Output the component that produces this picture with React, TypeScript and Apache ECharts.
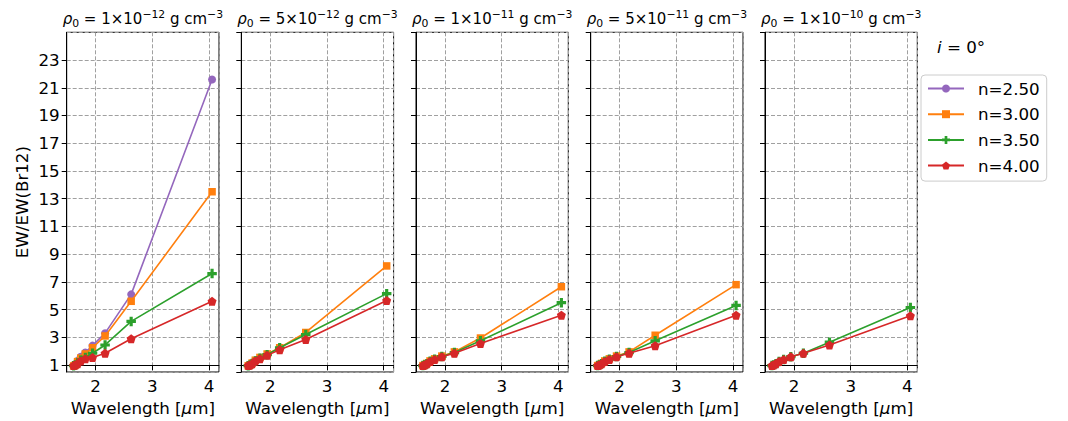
import React, { useEffect, useRef } from 'react';
import * as echarts from 'echarts';

// Brackett line wavelengths (µm): Br13 ... Brα
const wavelengths = [1.6114, 1.6412, 1.6811, 1.7367, 1.8179, 1.9446, 2.1661, 2.6259, 4.0523];

const seriesNames = ['n=2.50', 'n=3.00', 'n=3.50', 'n=4.00'];
const seriesColors = ['#9467bd', '#ff7f0e', '#2ca02c', '#d62728'];

const densityExponents = ['1', '5', '1', '5', '1'];
const densityPowers = ['−12', '−12', '−11', '−11', '−10'];

// rho0 = 1e-12
const ew_1e12_n250 = [0.93, 1, 1.3, 1.6, 1.9, 2.4, 3.3, 6.1, 21.6];
const ew_1e12_n300 = [0.94, 1, 1.25, 1.5, 1.8, 2.25, 3.1, 5.6, 13.5];
const ew_1e12_n350 = [0.95, 1, 1.15, 1.35, 1.55, 1.85, 2.45, 4.15, 7.6];
const ew_1e12_n400 = [0.96, 1, 1.1, 1.3, 1.45, 1.55, 1.85, 2.9, 5.6];
// rho0 = 5e-12
const ew_5e12_n300 = [0.95, 1, 1.15, 1.35, 1.55, 1.8, 2.25, 3.35, 8.15];
const ew_5e12_n350 = [0.95, 1, 1.12, 1.3, 1.5, 1.75, 2.25, 3.2, 6.15];
const ew_5e12_n400 = [0.96, 1, 1.1, 1.3, 1.45, 1.7, 2.1, 2.85, 5.65];
// rho0 = 1e-11
const ew_1e11_n300 = [0.96, 1, 1.12, 1.3, 1.45, 1.65, 1.95, 2.95, 6.65];
const ew_1e11_n350 = [0.96, 1, 1.1, 1.28, 1.42, 1.62, 1.9, 2.75, 5.5];
const ew_1e11_n400 = [0.96, 1, 1.1, 1.25, 1.4, 1.6, 1.85, 2.55, 4.6];
// rho0 = 5e-11
const ew_5e11_n300 = [0.96, 1, 1.12, 1.3, 1.45, 1.65, 1.95, 3.15, 6.8];
const ew_5e11_n350 = [0.96, 1, 1.1, 1.28, 1.42, 1.62, 1.9, 2.75, 5.3];
const ew_5e11_n400 = [0.96, 1, 1.1, 1.25, 1.4, 1.6, 1.85, 2.4, 4.6];
// rho0 = 1e-10
const ew_1e10_n350 = [0.96, 1, 1.1, 1.25, 1.4, 1.6, 1.85, 2.65, 5.15];
const ew_1e10_n400 = [0.96, 1, 1.1, 1.25, 1.4, 1.6, 1.85, 2.45, 4.55];

const panelSeries: (number[] | null)[][] = [
  [ew_1e12_n250, ew_1e12_n300, ew_1e12_n350, ew_1e12_n400],
  [null, ew_5e12_n300, ew_5e12_n350, ew_5e12_n400],
  [null, ew_1e11_n300, ew_1e11_n350, ew_1e11_n400],
  [null, ew_5e11_n300, ew_5e11_n350, ew_5e11_n400],
  [null, null, ew_1e10_n350, ew_1e10_n400],
];

const yTickLabels = [1, 3, 5, 7, 9, 11, 13, 15, 17, 19, 21, 23];
const xTickLabels = [2, 3, 4];
const Y_MIN = 0.5;
const Y_MAX = 25;
const Y_SHIFT = 1; // axis counts ticks from a multiple of 2, so values are offset by 1

const FONT = 'DejaVu Sans';
const FS = 16.7;

const PANEL_LEFTS = [66.7, 241.3, 416, 590.7, 765];
const PANEL_W = 152.3;
const PANEL_TOP = 32.3;
const PANEL_H = 340;

const PLUS = 'path://M1,0H2V1H3V2H2V3H1V2H0V1H1Z';
const PENTA = 'path://M0.5,0L1,0.363L0.809,0.951L0.191,0.951L0,0.363Z';
const symbols = ['circle', 'rect', PLUS, PENTA];
const symbolSizes = [8, 7.5, 9.5, 9];

export default function App() {
  const ref = useRef<HTMLDivElement>(null);
  useEffect(() => {
    if (!ref.current) return;
    const chart = echarts.init(ref.current, undefined, { renderer: 'svg' });
    const wMin = Math.min(...wavelengths);
    const wMax = Math.max(...wavelengths);
    const xMin = wMin - 0.05 * (wMax - wMin);
    const xMax = wMax + 0.05 * (wMax - wMin);

    const grids = PANEL_LEFTS.map((l) => ({
      left: l,
      top: PANEL_TOP,
      width: PANEL_W,
      height: PANEL_H,
      show: true,
      borderColor: '#000',
      borderWidth: 1,
      containLabel: false,
    }));

    const gridLine = { show: true, lineStyle: { color: '#a0a0a0', type: [4, 2] as any, width: 1 } };

    const xAxes = PANEL_LEFTS.map((_, i) => ({
      type: 'value',
      gridIndex: i,
      min: xMin,
      max: xMax,
      minInterval: 1,
      maxInterval: 1,
      splitNumber: 3,
      axisLine: { show: true, lineStyle: { color: '#000', width: 1 } },
      axisTick: { show: true, inside: false, length: 5, lineStyle: { color: '#000' } },
      axisLabel: {
        show: true,
        margin: 5,
        color: '#000',
        fontSize: FS,
        fontFamily: FONT,
        showMinLabel: false,
        showMaxLabel: false,
        formatter: (v: number) => {
          const r = Math.round(v);
          return Math.abs(v - r) < 1e-6 && xTickLabels.includes(r) ? String(r) : '';
        },
      },
      splitLine: gridLine,
      name: 'Wavelength [{it|μ}m]',
      nameLocation: 'middle',
      nameGap: 27,
      nameTextStyle: {
        color: '#000',
        fontSize: FS,
        fontFamily: FONT,
        verticalAlign: 'top',
        rich: { it: { fontStyle: 'italic', fontSize: FS, fontFamily: FONT, color: '#000' } },
      },
    }));

    const yAxes = PANEL_LEFTS.map((_, i) => ({
      type: 'value',
      gridIndex: i,
      min: Y_MIN - Y_SHIFT,
      max: Y_MAX - Y_SHIFT,
      minInterval: 2,
      maxInterval: 2,
      splitNumber: 12,
      axisLine: { show: true, lineStyle: { color: '#000', width: 1 } },
      axisTick: { show: true, inside: false, length: 5, lineStyle: { color: '#000' } },
      axisLabel: {
        show: i === 0,
        margin: 7,
        color: '#000',
        fontSize: FS,
        fontFamily: FONT,
        showMinLabel: false,
        showMaxLabel: false,
        formatter: (v: number) => {
          const real = v + Y_SHIFT;
          const r = Math.round(real);
          return Math.abs(real - r) < 1e-6 && yTickLabels.includes(r) ? String(r) : '';
        },
      },
      splitLine: gridLine,
      name: i === 0 ? 'EW/EW(Br12)' : '',
      nameLocation: 'middle',
      nameGap: 36,
      nameRotate: 90,
      nameTextStyle: { color: '#000', fontSize: FS, fontFamily: FONT },
    }));

    const series: any[] = [];
    panelSeries.forEach((panel, p) => {
      panel.forEach((vals, s) => {
        series.push({
          type: 'line',
          name: seriesNames[s],
          xAxisIndex: p,
          yAxisIndex: p,
          data: vals ? wavelengths.map((w, k) => [w, vals[k] - Y_SHIFT]) : [],
          symbol: symbols[s],
          symbolSize: symbolSizes[s],
          showAllSymbol: true,
          color: seriesColors[s],
          lineStyle: { color: seriesColors[s], width: 1.6 },
          itemStyle: { color: seriesColors[s] },
          z: 2 + s,
          clip: false,
        });
      });
    });

    const TFS = 15;
    const titleRich = {
      n: { fontSize: TFS, fontFamily: FONT, lineHeight: 20, fill: '#000' },
      it: { fontSize: TFS, fontFamily: FONT, fontStyle: 'italic', lineHeight: 20, fill: '#000' },
      sup: { fontSize: 10.8, fontFamily: FONT, lineHeight: 12, verticalAlign: 'top', fill: '#000' },
      sub: { fontSize: 10.8, fontFamily: FONT, lineHeight: 12, verticalAlign: 'bottom', fill: '#000' },
    };

    const graphics: any[] = PANEL_LEFTS.map((l, i) => ({
      type: 'text',
      x: l + PANEL_W / 2,
      y: 9,
      style: {
        text: `{it|ρ}{sub|0}{n| = ${densityExponents[i]}×10}{sup|${densityPowers[i]}}{n| g cm}{sup|−3}`,
        align: 'center',
        verticalAlign: 'top',
        rich: titleRich,
      },
    }));
    graphics.push({
      type: 'text',
      x: 937,
      y: 38,
      style: {
        text: '{it|i}{n| = 0°}',
        align: 'left',
        verticalAlign: 'top',
        rich: {
          n: { fontSize: FS, fontFamily: FONT, fill: '#000' },
          it: { fontSize: FS, fontFamily: FONT, fontStyle: 'italic', fill: '#000' },
        },
      },
    });

    chart.setOption({
      animation: false,
      textStyle: { fontFamily: FONT },
      grid: grids,
      xAxis: xAxes,
      yAxis: yAxes,
      series,
      legend: {
        orient: 'vertical',
        left: 921,
        top: 75,
        data: seriesNames,
        itemWidth: 36,
        itemHeight: 10,
        itemGap: 8.7,
        padding: [5, 7, 7, 6],
        borderColor: '#cccccc',
        borderWidth: 1,
        borderRadius: 4,
        backgroundColor: 'rgba(255,255,255,0.8)',
        textStyle: { fontSize: FS, fontFamily: FONT, color: '#000', lineHeight: 17, padding: [0, 0, 0, 9] },
      },
      graphic: graphics,
    });
    return () => chart.dispose();
  }, []);
  return (
    <div
      ref={ref}
      style={{ position: 'absolute', left: 0, top: 0, width: 1068, height: 421, background: '#fff' }}
    />
  );
}
